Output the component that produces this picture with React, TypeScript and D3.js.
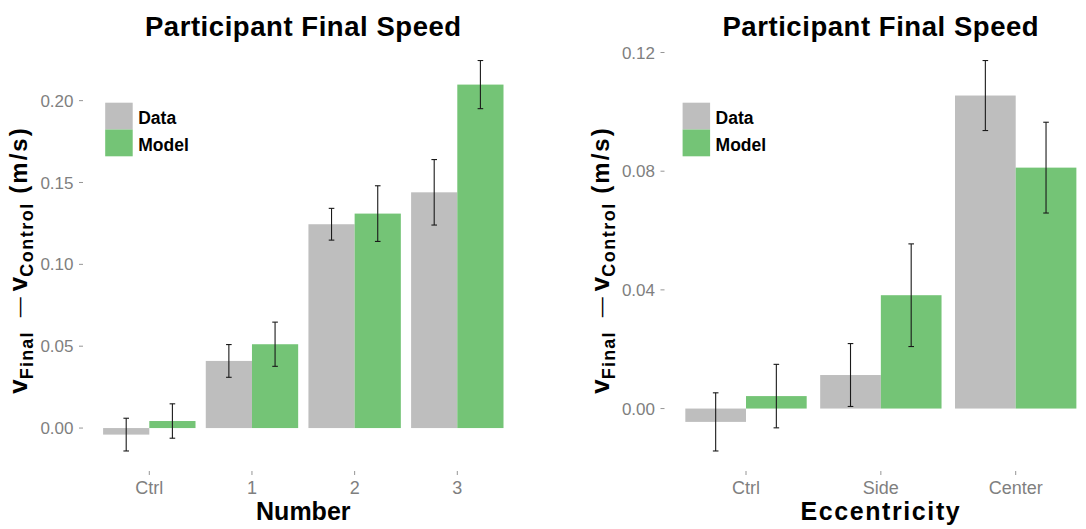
import React from "react";
import * as d3 from "d3";

// ---- Data ----
const numberCategories = ["Ctrl", "1", "2", "3"];
const numberData = [-0.004, 0.041, 0.1245, 0.144];
const numberDataErr = [0.01, 0.01, 0.0097, 0.02];
const numberModel = [0.0043, 0.0512, 0.131, 0.2098];
const numberModelErr = [0.0105, 0.0135, 0.017, 0.0147];
const numberTicks = [0, 0.05, 0.1, 0.15, 0.2];

const eccCategories = ["Ctrl", "Side", "Center"];
const eccData = [-0.0045, 0.0113, 0.1055];
const eccDataErr = [0.0098, 0.0106, 0.0118];
const eccModel = [0.0042, 0.0382, 0.0812];
const eccModelErr = [0.0107, 0.0173, 0.0153];
const eccTicks = [0, 0.04, 0.08, 0.12];

const seriesNames = ["Data", "Model"];
const seriesColors = ["#BEBEBE", "#74C476"];

const W = 1086;
const H = 529;
const FONT = "'Liberation Sans', Arial, Helvetica, sans-serif";
const TOP = 41;
const BOTTOM = 470.5;

type PanelProps = {
  left: number;
  right: number;
  tickX: number;
  title: string;
  xTitle: string;
  xTitleSpacing: number;
  categories: string[];
  data: number[];
  dataErr: number[];
  model: number[];
  modelErr: number[];
  ticks: number[];
};

function Panel(p: PanelProps) {
  const x = d3
    .scaleBand<string>()
    .domain(p.categories)
    .range([p.left, p.right])
    .paddingInner(0.1)
    .paddingOuter(0.15);
  const inner = d3.scaleBand<string>().domain(seriesNames).range([0, x.bandwidth()]);
  const lows = p.data.map((v, i) => v - p.dataErr[i]).concat(p.model.map((v, i) => v - p.modelErr[i]));
  const highs = p.data.map((v, i) => v + p.dataErr[i]).concat(p.model.map((v, i) => v + p.modelErr[i]));
  const lo = d3.min(lows)!;
  const hi = d3.max(highs)!;
  const pad = (hi - lo) * 0.05;
  const y = d3.scaleLinear().domain([lo - pad, hi + pad]).range([BOTTOM, TOP]);
  const center = (p.left + p.right) / 2;
  const series = [
    { name: "Data", vals: p.data, errs: p.dataErr },
    { name: "Model", vals: p.model, errs: p.modelErr },
  ];
  const yLabelX = p.tickX - 56;
  const yLabelY = 260;
  return (
    <g>
      {/* bars */}
      {series.map((s, si) =>
        p.categories.map((c, i) => {
          const x0 = x(c)! + inner(s.name)!;
          const v = s.vals[i];
          return (
            <rect
              key={s.name + c}
              x={x0}
              width={inner.bandwidth()}
              y={Math.min(y(v), y(0))}
              height={Math.abs(y(v) - y(0))}
              fill={seriesColors[si]}
            />
          );
        })
      )}
      {/* error bars */}
      {series.map((s) =>
        p.categories.map((c, i) => {
          const cx = x(c)! + inner(s.name)! + inner.bandwidth() / 2;
          const v = s.vals[i];
          const e = s.errs[i];
          const y1 = y(v + e);
          const y2 = y(v - e);
          return (
            <g key={"e" + s.name + c} stroke="#1a1a1a" strokeWidth={1.1} fill="none">
              <line x1={cx} x2={cx} y1={y1} y2={y2} />
              <line x1={cx - 2.8} x2={cx + 2.8} y1={y1} y2={y1} />
              <line x1={cx - 2.8} x2={cx + 2.8} y1={y2} y2={y2} />
            </g>
          );
        })
      )}
      {/* y axis */}
      {p.ticks.map((t) => (
        <g key={"yt" + t}>
          <line x1={p.tickX - 4} x2={p.tickX} y1={y(t)} y2={y(t)} stroke="#8a8a8a" strokeWidth={0.9} />
          <text
            x={p.tickX - 9.5}
            y={y(t)}
            dy="0.36em"
            textAnchor="end"
            fontFamily={FONT}
            fontSize={17}
            fill="#7F7F7F"
          >
            {d3.format(".2f")(t)}
          </text>
        </g>
      ))}
      {/* x axis */}
      {p.categories.map((c) => {
        const cx = x(c)! + x.bandwidth() / 2;
        return (
          <g key={"xt" + c}>
            <line x1={cx} x2={cx} y1={BOTTOM + 0.5} y2={BOTTOM + 4.5} stroke="#8a8a8a" strokeWidth={0.9} />
            <text x={cx} y={494} textAnchor="middle" fontFamily={FONT} fontSize={18} fill="#7F7F7F">
              {c}
            </text>
          </g>
        );
      })}
      {/* titles */}
      <text
        x={center}
        y={36}
        textAnchor="middle"
        fontFamily={FONT}
        fontWeight="bold"
        fontSize={27.5}
        letterSpacing={0.55}
        fill="#000"
      >
        {p.title}
      </text>
      <text
        x={center}
        y={519.5}
        textAnchor="middle"
        fontFamily={FONT}
        fontWeight="bold"
        fontSize={25}
        letterSpacing={p.xTitleSpacing}
        fill="#000"
      >
        {p.xTitle}
      </text>
      {/* y label */}
      <text
        transform={`translate(${yLabelX},${yLabelY}) rotate(-90)`}
        textAnchor="middle"
        fontFamily={FONT}
        fontWeight="bold"
        fill="#000"
      >
        <tspan fontSize={26}>v</tspan>
        <tspan fontSize={18} dy={6} letterSpacing={1.2}>Final</tspan>
        <tspan fontSize={20} dy={-7} dx={14} fontWeight="normal">{"\u2014"}</tspan>
        <tspan fontSize={26} dy={1} dx={6}>v</tspan>
        <tspan fontSize={18} dy={6} letterSpacing={1.5}>Control</tspan>
        <tspan fontSize={24} dy={-6} letterSpacing={2}>{" (m/s)"}</tspan>
      </text>
      {/* legend */}
      {seriesNames.map((s, i) => (
        <g key={"lg" + s}>
          <rect x={p.left + 17.5} y={102.7 + i * 26.8} width={27.5} height={26.8} fill={seriesColors[i]} />
          <text
            x={p.left + 50.5}
            y={124 + i * 26.5}
            fontFamily={FONT}
            fontWeight="bold"
            fontSize={17.5}
            fill="#000"
          >
            {s}
          </text>
        </g>
      ))}
    </g>
  );
}

export default function App() {
  return (
    <svg
      width={W}
      height={H}
      viewBox={`0 0 ${W} ${H}`}
      style={{ position: "absolute", left: 0, top: 0, background: "#fff" }}
    >
      <rect width={W} height={H} fill="#fff" />
      <Panel
        left={87.7}
        right={518.9}
        tickX={83}
        title="Participant Final Speed"
        xTitle="Number"
        xTitleSpacing={0}
        categories={numberCategories}
        data={numberData}
        dataErr={numberDataErr}
        model={numberModel}
        modelErr={numberModelErr}
        ticks={numberTicks}
      />
      <Panel
        left={665.1}
        right={1096.6}
        tickX={664.5}
        title="Participant Final Speed"
        xTitle="Eccentricity"
        xTitleSpacing={1.6}
        categories={eccCategories}
        data={eccData}
        dataErr={eccDataErr}
        model={eccModel}
        modelErr={eccModelErr}
        ticks={eccTicks}
      />
    </svg>
  );
}
